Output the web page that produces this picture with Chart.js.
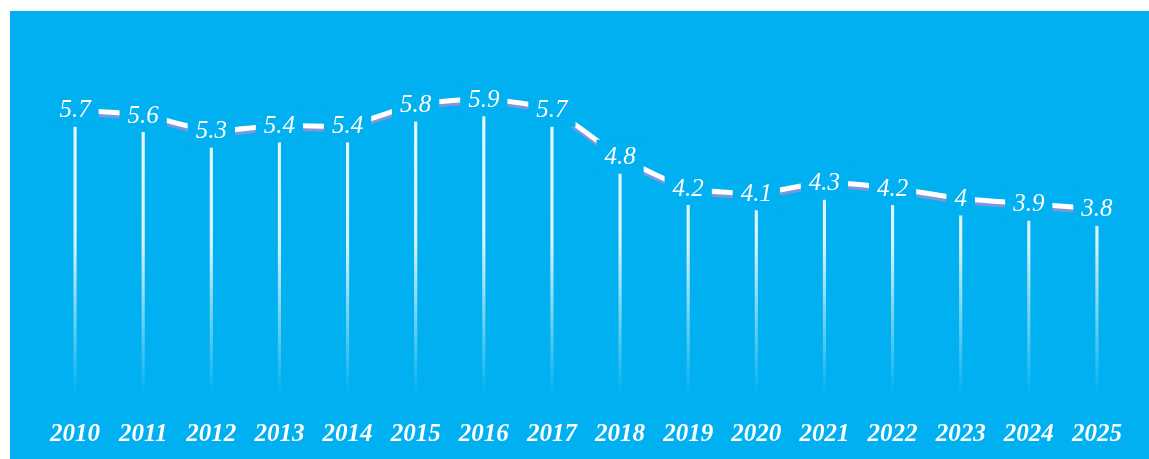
<!DOCTYPE html>
<html>
<head>
<meta charset="utf-8">
<script src="https://cdn.jsdelivr.net/npm/chart.js@4.4.0/dist/chart.umd.min.js"></script>
<style>
    html, body { margin: 0; padding: 0; background: #ffffff; }
    #wrap {
        position: absolute;
        left: 10px;
        top: 11px;
        width: 1139px;
        height: 448px;
        background: #00b0f0;
    }
</style>
</head>
<body>
<div id="wrap"><canvas id="rateChart"></canvas></div>
<script>
// Données du graphique
const years = ['2010', '2011', '2012', '2013', '2014', '2015', '2016', '2017',
    '2018', '2019', '2020', '2021', '2022', '2023', '2024', '2025'];
const rates = [5.7, 5.6, 5.3, 5.4, 5.4, 5.8, 5.9, 5.7, 4.8, 4.2, 4.1, 4.3, 4.2, 4.0, 3.9, 3.8];

const BLUE = '#00b0f0';

// Ombre sous la ligne blanche
const lineShadow = {
    id: 'lineShadow',
    beforeDatasetDraw(chart, args) {
        if (args.index !== 0) return;
        const ctx = chart.ctx;
        ctx.save();
        ctx.shadowColor = '#7f97d8';
        ctx.shadowOffsetY = 3;
        ctx.shadowBlur = 0;
    },
    afterDatasetDraw(chart, args) {
        if (args.index !== 0) return;
        chart.ctx.restore();
    }
};

// Étiquettes des valeurs avec un fond bleu qui coupe la ligne
const valueLabels = {
    id: 'valueLabels',
    afterDatasetsDraw(chart) {
        const ctx = chart.ctx;
        const meta = chart.getDatasetMeta(0);
        ctx.save();
        ctx.font = 'italic 25px "Liberation Serif", serif';
        ctx.textAlign = 'center';
        ctx.textBaseline = 'middle';
        meta.data.forEach((pt, i) => {
            const txt = String(rates[i]);
            const w = ctx.measureText(txt).width;
            ctx.fillStyle = BLUE;
            ctx.fillRect(pt.x - w / 2 - 8, pt.y - 17, w + 16, 34);
            ctx.fillStyle = '#ffffff';
            ctx.fillText(txt, pt.x, pt.y + 1);
        });
        ctx.restore();
    }
};

const ctx = document.getElementById('rateChart').getContext('2d');

new Chart(ctx, {
    type: 'bar',
    data: {
        labels: years,
        datasets: [
            {
                type: 'line',
                data: rates,
                borderColor: '#ffffff',
                borderWidth: 5,
                pointRadius: 0,
                tension: 0.2,
                fill: false
            },
            {
                type: 'bar',
                data: rates,
                barThickness: 2.5,
                backgroundColor: (c) => {
                    const area = c.chart.chartArea;
                    if (!area) return 'rgba(255,255,255,0.9)';
                    const g = c.chart.ctx.createLinearGradient(0, area.top, 0, area.bottom);
                    g.addColorStop(0, 'rgba(255,255,255,0.95)');
                    g.addColorStop(0.55, 'rgba(255,255,255,0.85)');
                    g.addColorStop(0.97, 'rgba(255,255,255,0)');
                    return g;
                }
            }
        ]
    },
    options: {
        responsive: true,
        maintainAspectRatio: false,
        animation: false,
        layout: {
            padding: { left: 31, right: 18, top: 31, bottom: -4 }
        },
        plugins: {
            legend: { display: false },
            tooltip: { enabled: false }
        },
        scales: {
            x: {
                grid: { display: false, drawTicks: false },
                border: { display: false },
                ticks: {
                    color: '#ffffff',
                    padding: 13,
                    maxRotation: 0,
                    font: { family: '"Liberation Serif", serif', size: 25, style: 'italic', weight: 'bold' }
                }
            },
            y: {
                display: false,
                min: 0,
                max: 7
            }
        }
    },
    plugins: [lineShadow, valueLabels]
});
</script>
</body>
</html>
